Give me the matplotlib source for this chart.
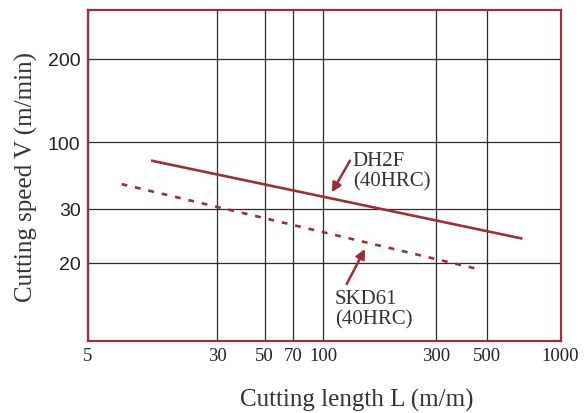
import numpy as np
import matplotlib
matplotlib.use('Agg')
import matplotlib.pyplot as plt

# chart values
x_ticks = [5, 30, 50, 70, 100, 300, 500, 1000]
y_ticks = [20, 30, 100, 200]

dh2f_length = [12, 700]
dh2f_speed = [72, 24]
skd61_length = [8, 450]
skd61_speed = [47, 19]

# the printed grid is hand spaced, so the scale follows its ticks
X_NODES = [5, 30, 50, 70, 100, 300, 500, 1000]
X_FRAC = [0, 0.2748, 0.3744, 0.4351, 0.4983, 0.7378, 0.8436, 1.0]
Y_NODES = [10, 20, 30, 100, 200, 300]
Y_FRAC = [0, 0.236, 0.399, 0.600, 0.852, 1.0]

RED = '#9e2f37'
SERIF = 'Liberation Serif'
SANS = 'Liberation Sans'


def make_scale(nodes, frac):
    lg = np.log10(nodes)

    def forward(v):
        v = np.clip(np.asarray(v, dtype=float), 1e-9, None)
        return np.interp(np.log10(v), lg, frac, left=frac[0] - 1, right=frac[-1] + 1)

    def inverse(p):
        return 10 ** np.interp(np.asarray(p, dtype=float), frac, lg)

    return forward, inverse


fig = plt.figure(figsize=(5.86, 4.14), dpi=100)
ax = fig.add_axes([87.5 / 586, 1 - 342 / 414, 473 / 586, 331 / 414])

ax.set_xscale('function', functions=make_scale(X_NODES, X_FRAC))
ax.set_yscale('function', functions=make_scale(Y_NODES, Y_FRAC))
ax.set_xlim(5, 1000)
ax.set_ylim(10, 300)

ax.set_xticks(x_ticks)
ax.set_xticklabels([str(t) for t in x_ticks], fontfamily=SERIF, fontsize=13.5)
ax.set_yticks(y_ticks)
ax.set_yticklabels([str(t) for t in y_ticks], fontfamily=SANS, fontsize=14)
ax.minorticks_off()
ax.tick_params(axis='both', length=0, colors='#222222')
ax.tick_params(axis='x', pad=4)
ax.tick_params(axis='y', pad=5)
ax.grid(True, color='#2b2b2b', linewidth=0.9)

for sp in ax.spines.values():
    sp.set_color(RED)
    sp.set_linewidth(1.6)

ax.plot(dh2f_length, dh2f_speed, color=RED, linewidth=1.9, solid_capstyle='butt')
ax.plot(skd61_length, skd61_speed, color=RED, linewidth=1.9, linestyle=(0, (2.2, 3.0)))

ax.text(0.5607, 0.575, 'DH2F\n(40HRC)', transform=ax.transAxes, ha='left', va='top',
        fontfamily=SERIF, fontsize=15, linespacing=1.1, color='#333333')
ax.annotate('', xy=(0.5163, 0.449), xytext=(0.555, 0.5447),
            xycoords='axes fraction', textcoords='axes fraction',
            arrowprops=dict(arrowstyle='-|>', color=RED, lw=1.8, mutation_scale=14,
                            shrinkA=0, shrinkB=0))

ax.text(0.5233, 0.158, 'SKD61\n(40HRC)', transform=ax.transAxes, ha='left', va='top',
        fontfamily=SERIF, fontsize=15, linespacing=1.1, color='#333333')
ax.annotate('', xy=(0.5867, 0.2779), xytext=(0.548, 0.1722),
            xycoords='axes fraction', textcoords='axes fraction',
            arrowprops=dict(arrowstyle='-|>', color=RED, lw=1.8, mutation_scale=14,
                            shrinkA=0, shrinkB=0))

fig.text(26 / 586, 1 - 177.5 / 414, 'Cutting speed V (m/min)', rotation=90,
         ha='center', va='center', fontfamily=SERIF, fontsize=18, color='#333333')
fig.text(356.7 / 586, 1 - 400 / 414, 'Cutting length L (m/m)',
         ha='center', va='center', fontfamily=SERIF, fontsize=18, color='#333333')

fig.savefig('out.png', dpi=100)
